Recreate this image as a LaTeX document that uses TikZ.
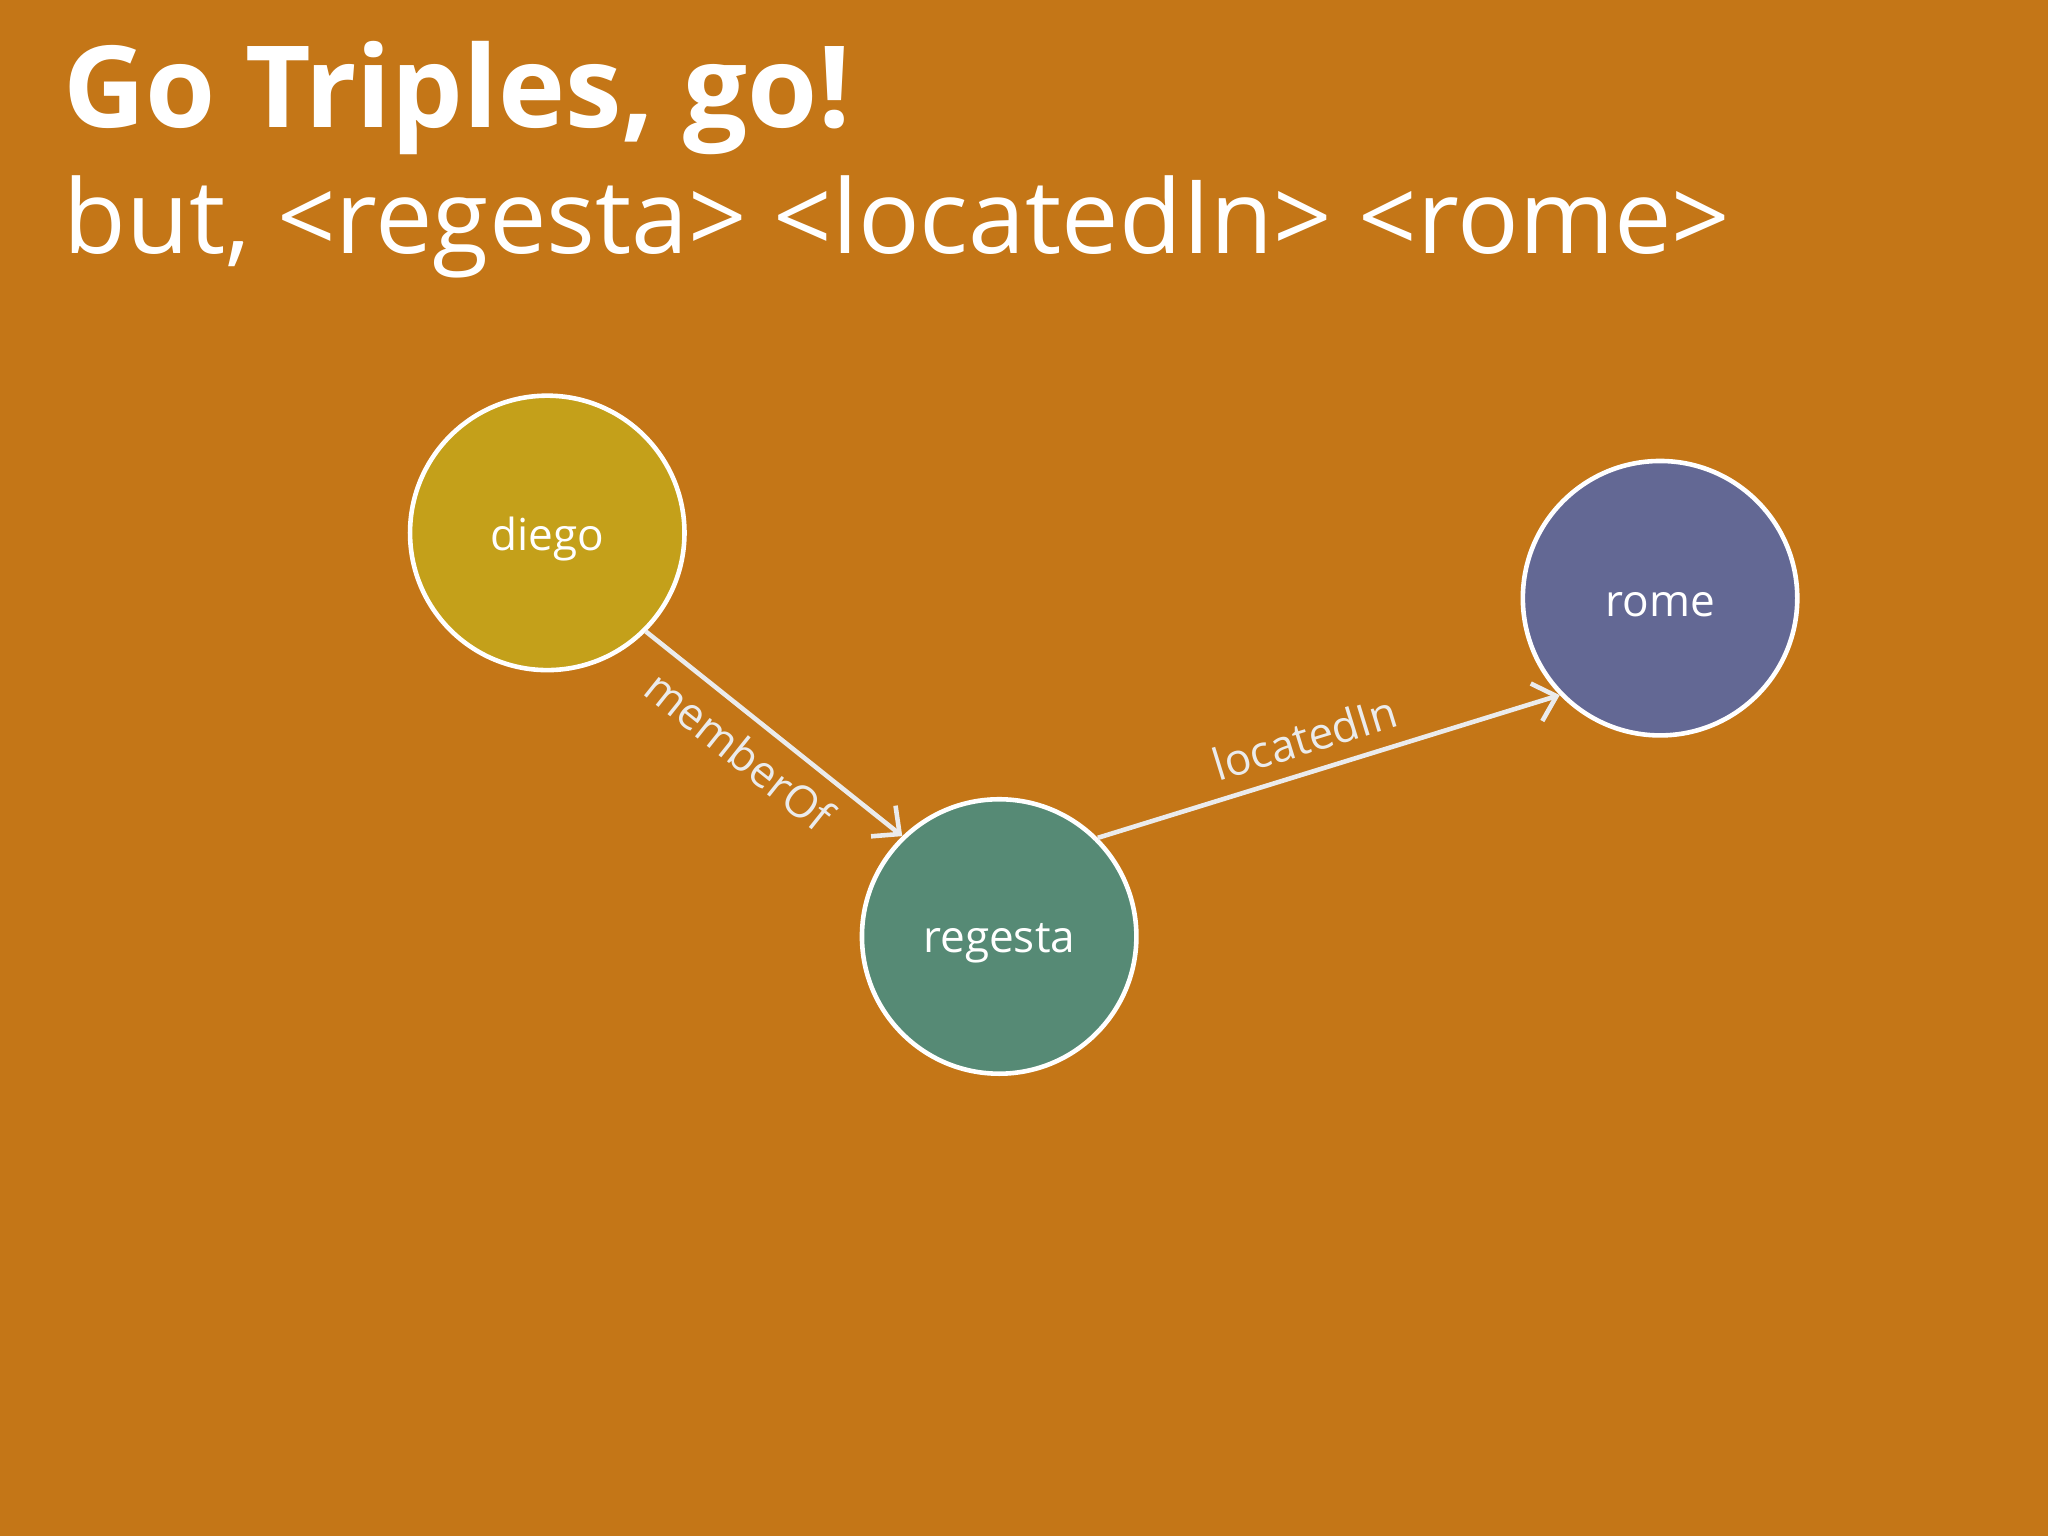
\documentclass[tikz,border=0pt]{standalone}
\usepackage{fontspec}
\setmainfont{Open Sans}
\usetikzlibrary{arrows.meta}
\definecolor{bg}{HTML}{C47617}
\definecolor{cdiego}{HTML}{C4A01A}
\definecolor{cregesta}{HTML}{568A75}
\definecolor{crome}{HTML}{636894}
\tikzset{
  ent/.style={circle, draw=white, line width=1pt, minimum size=2.1cm, inner sep=0pt, text=white, font=\fontsize{9.6pt}{11pt}\selectfont},
  entlab/.style={text=white, inner sep=0pt, font=\fontsize{9.6pt}{11pt}\selectfont},
  rel/.style={draw=white!92!black, line width=1pt, -{Straight Barb[length=1.6mm,width=3mm]}},
  rlab/.style={sloped, text=white!92!black, font=\fontsize{9.6pt}{11pt}\selectfont}
}
\begin{document}
\begin{tikzpicture}[x=0.01cm,y=-0.01cm]
\fill[bg] (0,0) rectangle (1568,1176);
\useasboundingbox (0,0) rectangle (1568,1176);
\node[anchor=base west, text=white, inner sep=0pt, font=\fontsize{24.7pt}{30pt}\selectfont\bfseries] (title) at (48,98) {Go Triples, go!};
\node[anchor=base west, text=white, inner sep=0pt, font=\fontsize{22.3pt}{28pt}\selectfont] (sub) at (48,194) {but, <regesta> <locatedIn> <rome>};
\node[ent, fill=cdiego] (diego) at (419,408) {};
\node[ent, fill=cregesta] (regesta) at (765,717) {};
\node[ent, fill=crome] (rome) at (1271,458) {};
\node[entlab] (ldiego) at (419,413) {diego};
\node[entlab] (lregesta) at (765,722) {regesta};
\node[entlab] (lrome) at (1271,463) {rome};
\draw[rel] (diego.-45) -- node[rlab, below, pos=0.45] {memberOf} (regesta.134);
\draw[rel] (regesta.45) -- node[rlab, above, pos=0.47] {locatedIn} (rome.224);
\end{tikzpicture}
\end{document}
